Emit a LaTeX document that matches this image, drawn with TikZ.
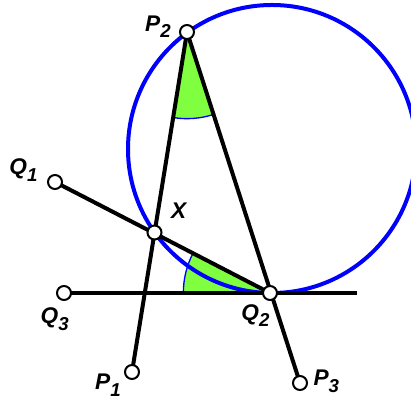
\documentclass[tikz,border=0pt]{standalone}
\usepackage{fontspec}
\setmainfont{Liberation Sans}
\usetikzlibrary{positioning,angles}
\definecolor{circblue}{HTML}{0000FF}
\definecolor{anggreen}{HTML}{80FF40}
\newcommand{\plab}[2]{#1\raisebox{-0.3em}{\fontsize{14}{14}\selectfont #2}}
\begin{document}
\begin{tikzpicture}[x=0.75pt,y=0.75pt,
			punto/.style={circle,draw=black,fill=white,line width=1.5pt,minimum size=10.5pt,inner sep=0pt},
			recta/.style={draw=black,line width=3pt},
			circ/.style={draw=circblue,line width=3pt},
			angulo/.style={draw=circblue,line width=1pt,fill=anggreen,angle radius=65pt},
			etiq/.style={font=\fontsize{17}{19}\selectfont\bfseries\itshape,inner sep=0pt}
			]
			\useasboundingbox (0,0) rectangle (411,402);
			\coordinate (O) at (272,253);
			\coordinate (P1) at (132,30);
			\coordinate (P2) at (187,370);
			\coordinate (P3) at (300,19);
			\coordinate (Q1) at (55,220);
			\coordinate (Q2) at (270,109);
			\coordinate (Q3) at (64,109);
			\coordinate (X) at (154.5,169.5);
			\coordinate (E) at (357,109);
			\pic[angulo] {angle=P1--P2--P3};
			\pic[angulo] {angle=X--Q2--Q3};
			\draw[circ] (O) circle[radius=108pt];
			\draw[recta] (P1) -- (P2);
			\draw[recta] (P2) -- (P3);
			\draw[recta] (Q1) -- (Q2);
			\draw[recta] (Q3) -- (E);
			\node[punto] (p1) at (P1) {};
			\node[punto] (p2) at (P2) {};
			\node[punto] (p3) at (P3) {};
			\node[punto] (q1) at (Q1) {};
			\node[punto] (q2) at (Q2) {};
			\node[punto] (q3) at (Q3) {};
			\node[punto] (x) at (X) {};
			\node[etiq] (lp1) [below left=-3pt and 4pt of p1] {\plab{P}{1}};
			\node[etiq] (lp2) [left=6pt of p2,yshift=4pt] {\plab{P}{2}};
			\node[etiq] (lp3) [right=4pt of p3,yshift=1pt] {\plab{P}{3}};
			\node[etiq] (lq1) [left=7pt of q1,yshift=9pt] {\plab{Q}{1}};
			\node[etiq] (lq2) [below left=4pt and -4pt of q2] {\plab{Q}{2}};
			\node[etiq] (lq3) [below=5pt of q3,xshift=-7pt] {\plab{Q}{3}};
			\node[etiq] (lx) [above right=6pt and 8pt of x] {X};
		\end{tikzpicture}
\end{document}
